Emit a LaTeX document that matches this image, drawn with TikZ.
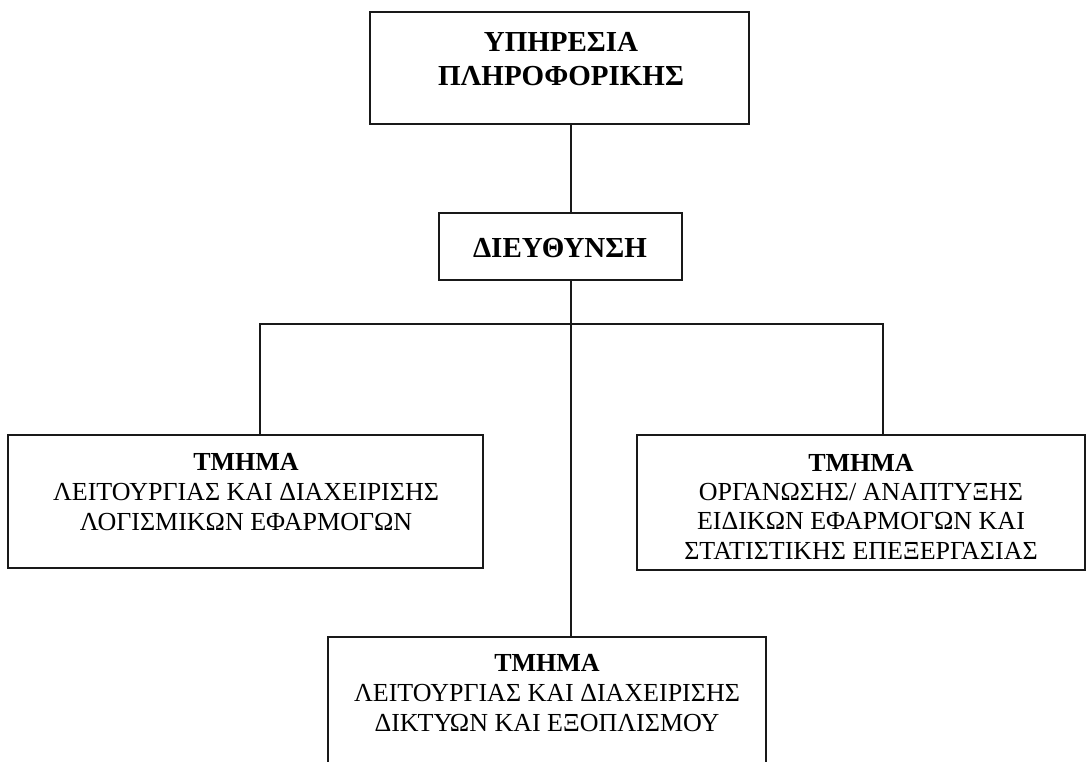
\documentclass[tikz,border=0pt]{standalone}
\usepackage{fontspec}
\setmainfont{Liberation Serif}
\begin{document}
\begin{tikzpicture}[x=1pt,y=-1pt,
  box/.style={draw=black!90, line width=1.9pt, inner sep=0pt},
  txt/.style={inner sep=0pt, align=center, anchor=north, font=\fontsize{26}{30}\selectfont},
  link/.style={draw=black!90, line width=1.9pt}]
\useasboundingbox[fill=white] (0,0) rectangle (1091,762);
\begin{scope}
\clip (0,0) rectangle (1091,762);
% boxes
\node[box, minimum width=379pt, minimum height=112pt] (top) at (559.5,68) {};
\node[box, minimum width=243pt, minimum height=67pt] (dir) at (560.5,246.5) {};
\node[box, minimum width=475pt, minimum height=133pt] (left) at (245.5,501.5) {};
\node[box, minimum width=448pt, minimum height=135pt] (right) at (861,502.5) {};
\node[box, minimum width=438pt, minimum height=160pt] (bottom) at (547,717) {};
% texts
\node[txt, font=\fontsize{29}{34}\selectfont\bfseries] (toptxt) at (561,32) {ΥΠΗΡΕΣΙΑ\\ΠΛΗΡΟΦΟΡΙΚΗΣ};
\node[txt, font=\fontsize{29}{34}\selectfont\bfseries] (dirtxt) at (560,238) {ΔΙΕΥΘΥΝΣΗ};
\node[txt] (lefttxt) at (246,453) {\textbf{ΤΜΗΜΑ}\\ΛΕΙΤΟΥΡΓΙΑΣ ΚΑΙ ΔΙΑΧΕΙΡΙΣΗΣ\\ΛΟΓΙΣΜΙΚΩΝ ΕΦΑΡΜΟΓΩΝ};
\node[txt, font=\fontsize{26}{29.3}\selectfont] (righttxt) at (861,454) {\textbf{ΤΜΗΜΑ}\\ΟΡΓΑΝΩΣΗΣ/ ΑΝΑΠΤΥΞΗΣ\\ΕΙΔΙΚΩΝ ΕΦΑΡΜΟΓΩΝ ΚΑΙ\\ΣΤΑΤΙΣΤΙΚΗΣ ΕΠΕΞΕΡΓΑΣΙΑΣ};
\node[txt] (bottomtxt) at (547,654) {\textbf{ΤΜΗΜΑ}\\ΛΕΙΤΟΥΡΓΙΑΣ ΚΑΙ ΔΙΑΧΕΙΡΙΣΗΣ\\ΔΙΚΤΥΩΝ ΚΑΙ ΕΞΟΠΛΙΣΜΟΥ};
% connectors
\coordinate (bus) at (571,324);
\draw[link] (top.south -| bus) -- (dir.north -| bus);
\draw[link] (dir.south -| bus) -- (bottom.north -| bus);
\draw[link] (left.north -| 260,0) |- (bus) -| (right.north -| 883,0);
\end{scope}
\end{tikzpicture}
\end{document}
